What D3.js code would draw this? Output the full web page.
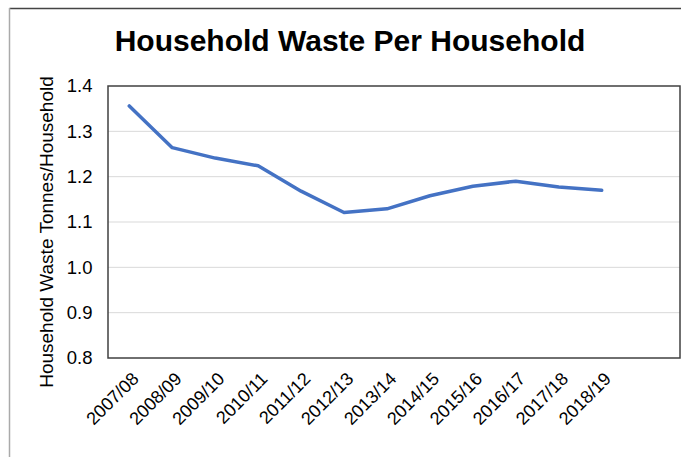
<!DOCTYPE html>
<html>
<head>
<meta charset="utf-8">
<script src="https://cdn.jsdelivr.net/npm/d3@7"></script>
<style>
body{margin:0;padding:0;background:#fff;}
svg{display:block;}
text{font-family:"Liberation Sans",Arial,sans-serif;}
</style>
</head>
<body>
<svg id="chart" width="681" height="457"></svg>
<script>
const categories = ["2007/08","2008/09","2009/10","2010/11","2011/12","2012/13","2013/14","2014/15","2015/16","2016/17","2017/18","2018/19"];
const values = [1.356,1.264,1.241,1.224,1.168,1.121,1.129,1.158,1.179,1.190,1.177,1.170];
const yTicks = [0.8,0.9,1.0,1.1,1.2,1.3,1.4];
const title = "Household Waste Per Household";
const yTitle = "Household Waste Tonnes/Household";

const svg = d3.select("#chart");
const W = 681, H = 457;
const plot = {left:108, right:680, top:86, bottom:358};

// outer frame
svg.append("line").attr("x1",9.5).attr("x2",W).attr("y1",8.5).attr("y2",8.5)
  .attr("stroke","#444").attr("stroke-width",1.5);
svg.append("line").attr("x1",9.5).attr("x2",9.5).attr("y1",8).attr("y2",H)
  .attr("stroke","#aaa").attr("stroke-width",1.5);

const x = d3.scalePoint().domain(categories).range([129.3, 601.7]);
const y = d3.scaleLinear().domain([0.8,1.4]).range([plot.bottom, plot.top]);

// gridlines
svg.append("g").selectAll("line").data(yTicks.slice(1,-1)).join("line")
  .attr("x1",plot.left).attr("x2",plot.right)
  .attr("y1",d=>y(d)).attr("y2",d=>y(d))
  .attr("stroke","#d9d9d9").attr("stroke-width",1);

// y axis labels
const yAxis = d3.axisLeft(y).tickValues(yTicks).tickFormat(d3.format(".1f")).tickSize(0).tickPadding(15.5);
const ga = svg.append("g").attr("transform",`translate(${plot.left},0)`).call(yAxis);
ga.select(".domain").remove();
ga.selectAll("text").attr("font-size","18.5px").attr("fill","#000").attr("font-family","Liberation Sans, Arial, sans-serif");

// x axis labels
const xAxis = d3.axisBottom(x).tickSize(0).tickPadding(0);
const gx = svg.append("g").attr("transform",`translate(0,${plot.bottom})`).call(xAxis);
gx.select(".domain").remove();
gx.selectAll("text")
  .attr("font-size","18px").attr("fill","#000").attr("font-family","Liberation Sans, Arial, sans-serif")
  .attr("text-anchor","end")
  .attr("dy",null).attr("y",0)
  .attr("transform","translate(10,22) rotate(-45)");

// line
const line = d3.line().x((d,i)=>x(categories[i])).y(d=>y(d));
svg.append("path").datum(values).attr("d",line)
  .attr("fill","none").attr("stroke","#4472C4").attr("stroke-width",3.5)
  .attr("stroke-linejoin","round").attr("stroke-linecap","round");

// plot border
svg.append("rect").attr("x",plot.left).attr("y",plot.top)
  .attr("width",plot.right-plot.left).attr("height",plot.bottom-plot.top)
  .attr("fill","none").attr("stroke","#404040").attr("stroke-width",1.5);

// title
svg.append("text").attr("x",350).attr("y",51).attr("text-anchor","middle")
  .attr("font-size","30px").attr("font-weight","bold").attr("fill","#000").text(title);

// y title
svg.append("text").attr("transform","translate(53,232) rotate(-90)")
  .attr("text-anchor","middle").attr("font-size","19px").attr("fill","#000").text(yTitle);
</script>
</body>
</html>
